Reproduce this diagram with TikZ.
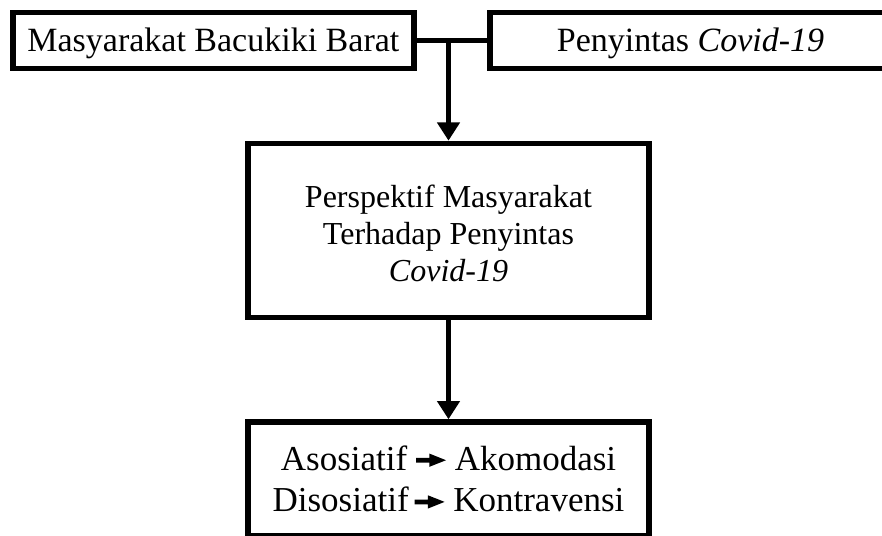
\documentclass[tikz,border=0pt]{standalone}
\usepackage{fontspec}
\setmainfont{Liberation Serif}
\usetikzlibrary{arrows.meta,calc}
\newcommand{\hvarrow}{\tikz[baseline=0pt]\fill[black] (0pt,7.6pt) -- (13.3pt,7.6pt) -- (13.3pt,3.35pt) -- (30pt,10pt) -- (13.3pt,16.65pt) -- (13.3pt,12.4pt) -- (0pt,12.4pt) -- cycle;}
\begin{document}
\begin{tikzpicture}[x=1pt,y=-1pt,
  box/.style={draw=black, line width=5.5pt, minimum width=401.2pt, inner sep=0pt, fill=white},
  topbox/.style={box, minimum height=55.5pt, text height=26pt, text depth=3.6pt,
    font=\fontsize{34}{40}\selectfont},
  conn/.style={draw=black, line width=5pt},
  arr/.style={conn, -{Triangle[width=22pt,length=18.3pt]}}]
\fill[white] (0,0) rectangle (882,535);
\node[topbox] (L) at (213.35,40.5) {Masyarakat Bacukiki Barat};
\node[topbox] (R) at (690.6,40.5) {Penyintas \textit{Covid-19}};
\node[box, minimum height=173.8pt, align=center,
  font=\fontsize{32}{37.2}\selectfont] (M) at (448.5,230.35)
  {\rule{0pt}{28.3pt}Perspektif Masyarakat\\Terhadap Penyintas\\\textit{Covid-19}};
\node[box, minimum height=113.7pt, align=center,
  font=\fontsize{35}{41.7}\selectfont] (B) at (448.5,478.9)
  {Asosiatif \hvarrow{} Akomodasi\\Disosiatif\,\hvarrow{} Kontravensi};
\draw[conn] (L.east) -- (R.west);
\coordinate (J) at (M.north |- L.east);
\draw[arr] (J) -- (M.north);
\draw[arr] (M.south) -- (B.north);
\pgfresetboundingbox
\useasboundingbox (0,0) rectangle (882,535);
\end{tikzpicture}
\end{document}
